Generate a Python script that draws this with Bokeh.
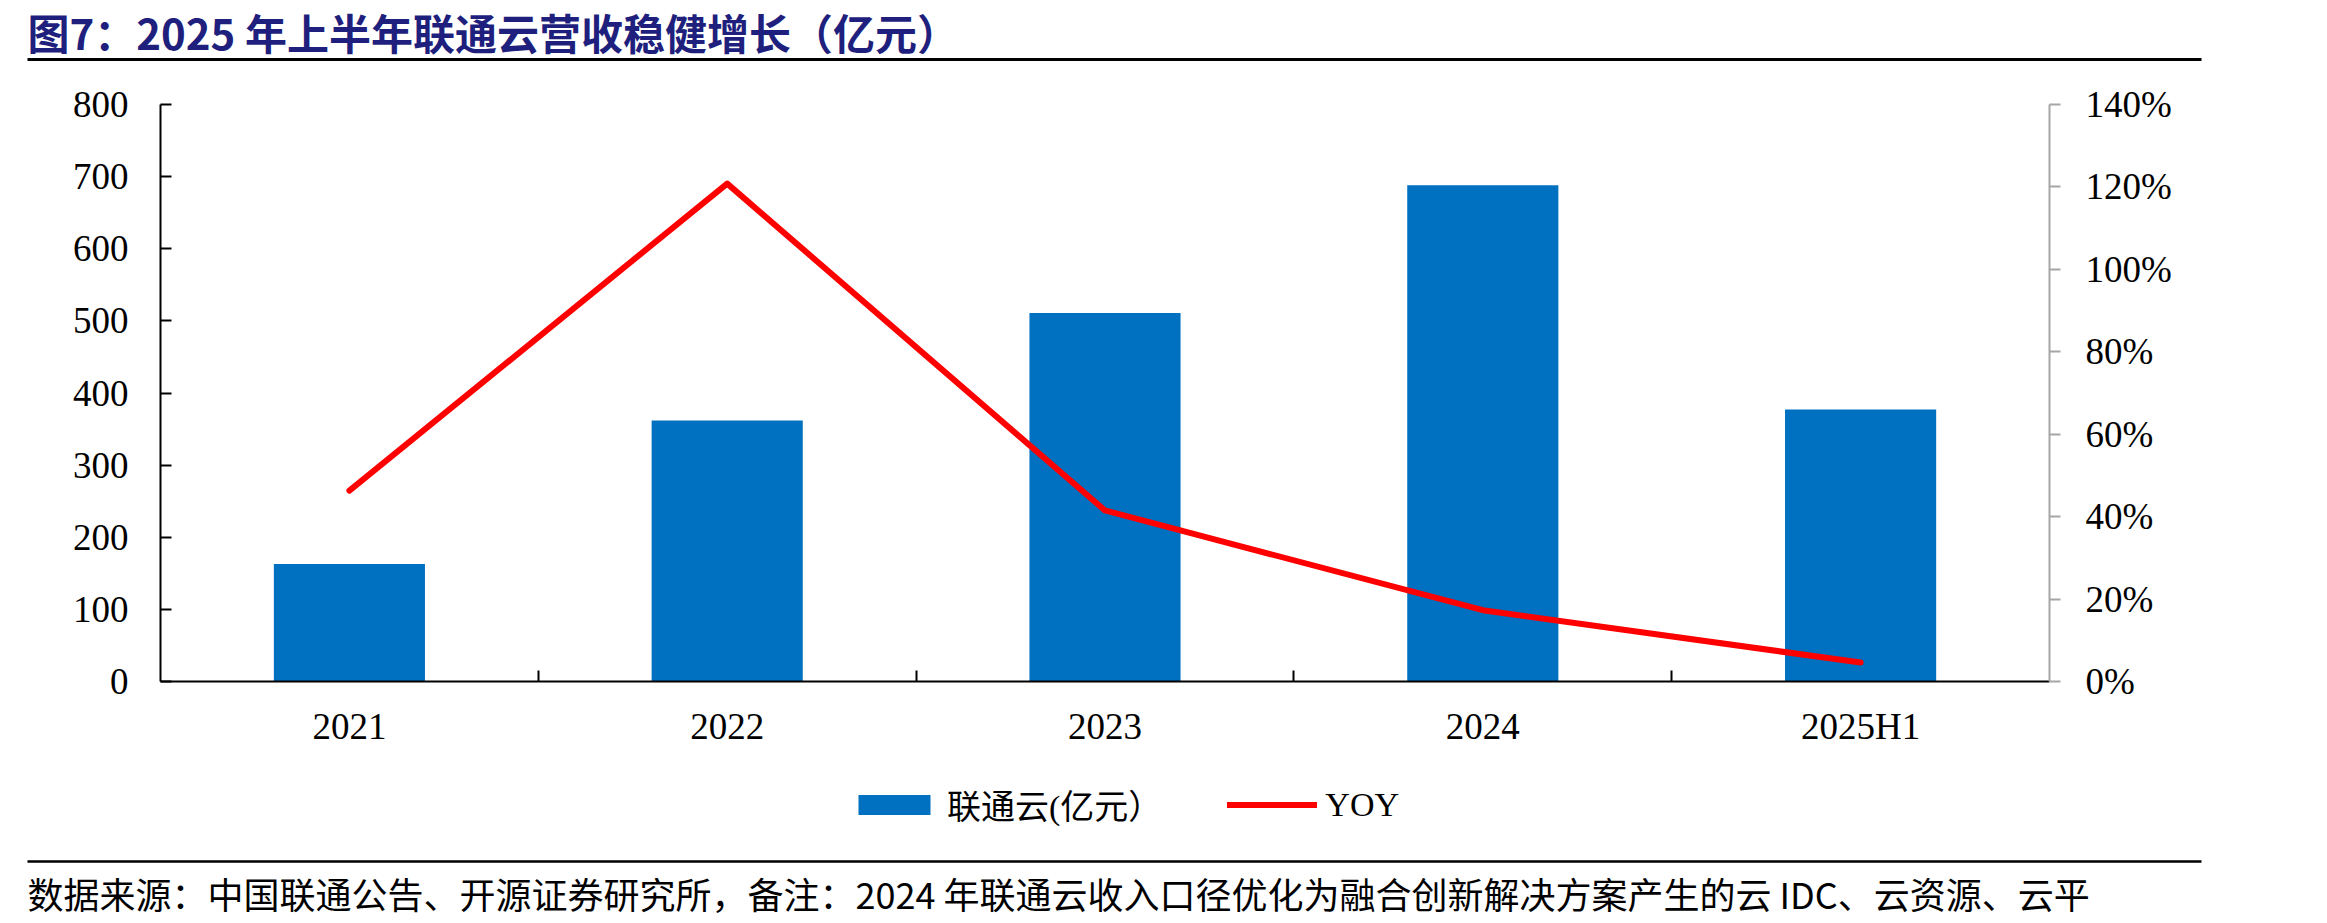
from bokeh.plotting import figure
from bokeh.layouts import column
from bokeh.models import (Range1d, LinearAxis, FixedTicker, Legend, LegendItem,
                          ColumnDataSource, NumeralTickFormatter, CustomJSTickFormatter)
from bokeh.core.properties import value
from bokeh.embed import file_html
from bokeh.resources import INLINE

# ---------------- data ----------------
categories = ["2021", "2022", "2023", "2024", "2025H1"]
revenue = [163, 362, 511, 688, 377]          # 联通云(亿元)
yoy = [0.463, 1.208, 0.415, 0.173, 0.046]    # YOY
left_ticks = [0, 100, 200, 300, 400, 500, 600, 700, 800]
right_ticks = [0, 0.2, 0.4, 0.6, 0.8, 1.0, 1.2, 1.4]
bar_label = "联通云(亿元）"
line_label = "YOY"
title_text = "图7：2025 年上半年联通云营收稳健增长（亿元）"
source_text = ("数据来源：中国联通公告、开源证券研究所，备注：2024 年联通云收入口径优化为"
               "融合创新解决方案产生的云 IDC、云资源、云平")

W = 2327
SERIF = "Liberation Serif"
CJK = "Noto Sans CJK SC"
MIX = "Liberation Serif, Noto Sans CJK SC"
BAR_COLOR = "#0070C0"
LINE_COLOR = "#FF0000"

xpos = [i + 0.5 for i in range(len(categories))]
src = ColumnDataSource(dict(x=xpos, cat=categories, rev=revenue, yoy=yoy))


def blank(height):
    f = figure(width=W, height=height, x_range=Range1d(0, W), y_range=Range1d(height, 0),
               x_axis_type=None, y_axis_type=None, output_backend="svg",
               toolbar_location=None, min_border=0, frame_align=False)
    f.grid.visible = False
    f.outline_line_color = None
    return f


# ---------------- header (canvas y 0..70) ----------------
H1 = 70
head = blank(H1)
head.text(x=[27], y=[31], text=[title_text], text_font=value(CJK),
          text_font_style="bold", text_font_size="42px", text_color="#1F1F7E",
          text_baseline="middle", text_align="left")
head.segment(x0=[27], y0=[59], x1=[2201], y1=[59], line_color="black", line_width=3)

# ---------------- main chart (canvas y 70..760) ----------------
H2 = 690
p = figure(width=W, height=H2, x_range=Range1d(0, len(categories)),
           y_range=Range1d(0, 800), output_backend="svg", toolbar_location=None,
           min_border_left=160, min_border_right=278, min_border_top=34,
           min_border_bottom=79, frame_align=False)
p.grid.visible = False
p.outline_line_color = None
p.extra_y_ranges = {"yoy": Range1d(0, 1.4)}

bars = p.vbar(x="x", top="rev", width=0.4, source=src, fill_color=BAR_COLOR,
              line_color=None)
line = p.line(x="x", y="yoy", source=src, y_range_name="yoy", line_color=LINE_COLOR,
              line_width=6, line_cap="round", line_join="round")

xa = p.xaxis[0]
xa.ticker = FixedTicker(ticks=xpos, minor_ticks=[1, 2, 3, 4])
xa.formatter = CustomJSTickFormatter(args=dict(cats=categories),
                                     code="return cats[Math.floor(tick)] || '';")
xa.axis_line_color = "black"
xa.axis_line_width = 2
xa.major_tick_line_color = None
xa.minor_tick_in = 11
xa.minor_tick_out = 0
xa.minor_tick_line_color = "black"
xa.minor_tick_line_width = 2
xa.major_label_text_font = SERIF
xa.major_label_text_font_size = "37px"
xa.major_label_text_color = "black"
xa.major_label_standoff = 18

ya = p.yaxis[0]
ya.ticker = FixedTicker(ticks=left_ticks)
ya.axis_line_color = "black"
ya.axis_line_width = 2
ya.major_tick_in = 11
ya.major_tick_out = 0
ya.major_tick_line_color = "black"
ya.major_tick_line_width = 2
ya.minor_tick_line_color = None
ya.major_label_text_font = SERIF
ya.major_label_text_font_size = "37px"
ya.major_label_text_color = "black"
ya.major_label_standoff = 32

ra = LinearAxis(y_range_name="yoy", ticker=FixedTicker(ticks=right_ticks),
                formatter=NumeralTickFormatter(format="0%"))
ra.axis_line_color = "#A6A6A6"
ra.axis_line_width = 2
ra.major_tick_in = 0
ra.major_tick_out = 11
ra.major_tick_line_color = "#A6A6A6"
ra.major_tick_line_width = 2
ra.minor_tick_line_color = None
ra.major_label_text_font = SERIF
ra.major_label_text_font_size = "37px"
ra.major_label_text_color = "black"
ra.major_label_standoff = 25
p.add_layout(ra, "right")

# ---------------- legend strip (canvas y 760..850) ----------------
H_LEG = 90
leg = figure(width=W, height=H_LEG, x_range=Range1d(10, 11), y_range=Range1d(-2, -1),
             x_axis_type=None, y_axis_type=None, output_backend="svg",
             toolbar_location=None, min_border=0, frame_align=False)
leg.grid.visible = False
leg.outline_line_color = None
# same series styles as the chart; hidden here, only their legend entries are shown
lbars = leg.vbar(x="x", top="rev", width=0.4, source=src, fill_color=BAR_COLOR,
                 line_color=None, visible=False)
lline = leg.line(x="x", y="yoy", source=src, line_color=LINE_COLOR, line_width=6,
                 line_cap="round", visible=False)
legend = Legend(items=[LegendItem(label=bar_label, renderers=[lbars]),
                       LegendItem(label=line_label, renderers=[lline])],
                orientation="horizontal", location=(849, 21), click_policy="none",
                inactive_fill_alpha=0,
                glyph_width=90, glyph_height=25, label_standoff=8, spacing=65,
                padding=0, margin=0, border_line_color=None,
                background_fill_alpha=0, label_text_font=MIX,
                label_text_font_size="34px", label_text_color="black")
leg.add_layout(legend, "center")

# ---------------- footer (canvas y 850..923) ----------------
H3 = 923 - H1 - H2 - H_LEG
foot = blank(H3)
foot.segment(x0=[27], y0=[11], x1=[2201], y1=[11], line_color="black", line_width=2.5)
foot.text(x=[27], y=[42], text=[source_text], text_font=value(CJK),
          text_font_size="36px", text_color="black", text_baseline="middle",
          text_align="left")

layout = column(head, p, leg, foot)
open("out.html", "w").write(file_html(layout, INLINE))
